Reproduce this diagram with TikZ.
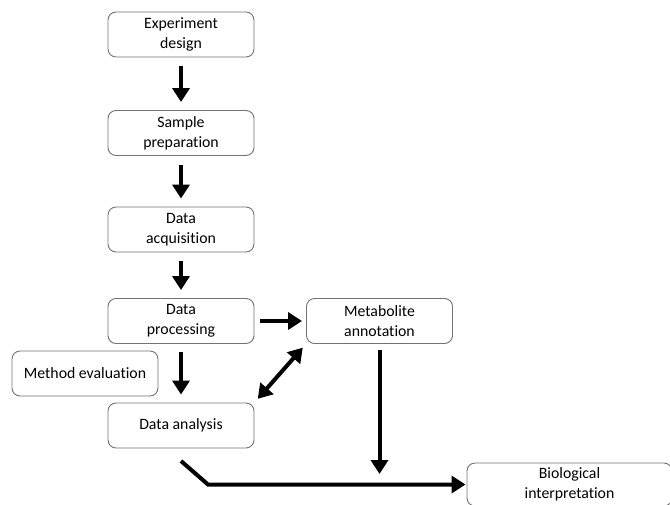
\documentclass[tikz,border=0pt]{standalone}
\usepackage{fontspec}
\setmainfont[Ligatures={NoCommon}]{Carlito}
\usetikzlibrary{arrows.meta}
\tikzset{>={Triangle[length=14pt,width=17pt]}}
\tikzset{stage/.style={draw=black!55, line width=0.9pt, rounded corners=8pt, fill=white,
  minimum width=146pt, minimum height=45pt, inner sep=2pt, align=center,
  font=\fontsize{15.8pt}{20pt}\selectfont}}
\tikzset{flow/.style={line width=4pt, ->}}

\begin{document}
\begin{tikzpicture}[x=1pt,y=-1pt]
\useasboundingbox (0,0) rectangle (670,504);
\node[stage] (exp) at (181,34.5) {Experiment\\design};
\node[stage] (samp) at (181,133) {Sample\\preparation};
\node[stage] (acq) at (181,229.5) {Data\\acquisition};
\node[stage] (proc) at (181,321) {Data\\processing};
\node[stage] (annot) at (379.5,321) {Metabolite\\annotation};
\node[stage] (meth) at (85,373.5) {Method evaluation};
\node[stage] (anal) at (181,425.5) {Data analysis};
\node[stage, minimum width=205pt, minimum height=43pt] (bio) at (569.5,484.5) {Biological\\interpretation};

\coordinate (annotend) at (379.5,474);
\coordinate (analstart) at (181,461);
\coordinate (bend) at (208,484.5);

\draw[flow, shorten <=9pt, shorten >=8pt] (exp) -- (samp);
\draw[flow, shorten <=9pt, shorten >=8pt] (samp) -- (acq);
\draw[flow, shorten <=9pt, shorten >=8pt] (acq) -- (proc);
\draw[flow, shorten <=8pt, shorten >=8pt] (proc) -- (anal);
\draw[flow, shorten <=6pt, shorten >=4pt] (proc) -- (annot);
\draw[flow, <->, shorten <=5pt, shorten >=5pt] (anal.north east) -- (annot.south west);
\draw[flow, shorten <=6pt] (annot) -- (annotend);
\draw[line width=4pt, -{Triangle[length=14pt,width=17pt]}, shorten >=1pt] (analstart) -- (bend) -- (bio.west);
\end{tikzpicture}
\end{document}
